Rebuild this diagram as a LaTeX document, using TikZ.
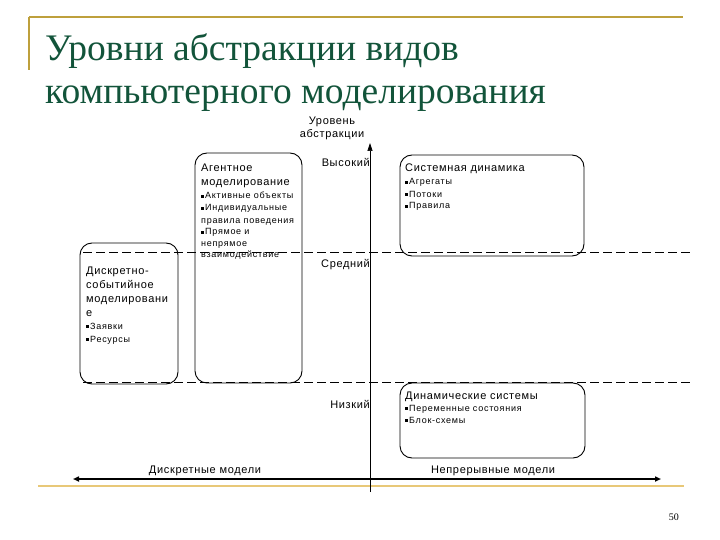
\documentclass[tikz,border=0pt]{standalone}
\usepackage{fontspec}
\setmainfont{Liberation Serif}
\newfontfamily\arialb{Liberation Sans}[LetterSpace=6]
\newfontfamily\arials{Liberation Sans}[LetterSpace=8]
\usetikzlibrary{arrows.meta}
\definecolor{titlegreen}{RGB}{18,84,58}
\definecolor{gold}{RGB}{190,160,60}
\definecolor{goldlight}{RGB}{232,200,120}
\tikzset{
  box/.style={draw=black, line width=0.9pt, rounded corners=12pt},
  big/.style={font=\arialb\fontsize{11}{12}\selectfont, anchor=base west, inner sep=0pt},
  small/.style={font=\arials\fontsize{9}{10}\selectfont, anchor=base west, inner sep=0pt},
  lvl/.style={font=\arialb\fontsize{11}{13}\selectfont, inner sep=0pt},
  dashline/.style={draw=black, line width=0.6pt, dash pattern=on 9pt off 4pt},
  titletext/.style={anchor=base west, inner sep=0pt, text=titlegreen, font=\fontsize{37.5}{40}\selectfont},
}
\newcommand{\bul}{\rule[1.2pt]{3.2pt}{3.2pt}\hspace{0.8pt}}
\begin{document}
\begin{tikzpicture}[x=1pt,y=-1pt]
\useasboundingbox (0,0) rectangle (720,540);
% gold frame lines
\draw[gold, line width=1.6pt] (29,17) -- (683,17);
\draw[gold, line width=1.6pt] (29,17) -- (29,70);
\draw[goldlight, line width=2.8pt] (38,486) -- (684,486);
% title
\node[titletext] (t1) at (45,61) {Уровни абстракции видов};
\node[titletext] (t2) at (45,104) {компьютерного моделирования};
% dashed lines
\coordinate (d1a) at (83,252); \coordinate (d1b) at (690,252);
\coordinate (d2a) at (83,382); \coordinate (d2b) at (690,382);
\draw[dashline] (d1a) -- (d1b);
\draw[dashline] (d2a) -- (d2b);
% boxes
\draw[box] (195,153) rectangle (302,383);
\draw[box] (400,155) rectangle (584,256);
\draw[box] (80,243) rectangle (178,384);
\draw[box] (400,383) rectangle (585,458);
% axis
\coordinate (ax0) at (370,492); \coordinate (ax1) at (370,143);
\draw[line width=0.7pt, -{Triangle[length=8pt,width=5pt]}] (ax0) -- (ax1);
\coordinate (h0) at (73,479); \coordinate (h1) at (661,479);
\draw[line width=1.6pt, {Triangle[length=6pt,width=5pt]}-{Triangle[length=6pt,width=5pt]}] (h0) -- (h1);
% axis labels
\node[lvl, align=center] (lv) at (332,128) {Уровень\\абстракции};
\node[lvl, anchor=base east] (hi) at (370,167) {Высокий};
\node[lvl, anchor=base west] (mid) at (321,267) {Средний};
\node[lvl, anchor=base east] (lo) at (370,408) {Низкий};
\node[lvl, anchor=base] (dm) at (205,473) {Дискретные модели};
\node[lvl, anchor=base] (cm) at (493,473) {Непрерывные модели};
% agent box text
\node[big] (a1) at (201,172) {Агентное};
\node[big] (a2) at (201,186) {моделирование};
\node[small] (a3) at (201,199) {\bul Активные объекты};
\node[small] (a4) at (201,211) {\bul Индивидуальные};
\node[small] (a5) at (201,223) {правила поведения};
\node[small] (a6) at (201,235) {\bul Прямое и};
\node[small] (a7) at (201,247) {непрямое};
\node[small] (a8) at (201,258) {взаимодействие};
% system dynamics
\node[big] (s1) at (405,172) {Системная динамика};
\node[small] (s2) at (405,185) {\bul Агрегаты};
\node[small] (s3) at (405,197) {\bul Потоки};
\node[small] (s4) at (405,209) {\bul Правила};
% discrete event
\node[big] (e1) at (86,274) {Дискретно-};
\node[big] (e2) at (86,288) {событийное};
\node[big] (e3) at (86,302) {моделировани};
\node[big] (e4) at (86,316) {е};
\node[small] (e5) at (86,329) {\bul Заявки};
\node[small] (e6) at (86,342) {\bul Ресурсы};
% dynamic systems
\node[big] (y1) at (405,399) {Динамические системы};
\node[small] (y2) at (405,411) {\bul Переменные состояния};
\node[small] (y3) at (405,423) {\bul Блок-схемы};
% page number
\node[anchor=base east, inner sep=0pt, font=\fontsize{10}{11}\selectfont] (pg) at (679,520) {50};
\end{tikzpicture}
\end{document}
